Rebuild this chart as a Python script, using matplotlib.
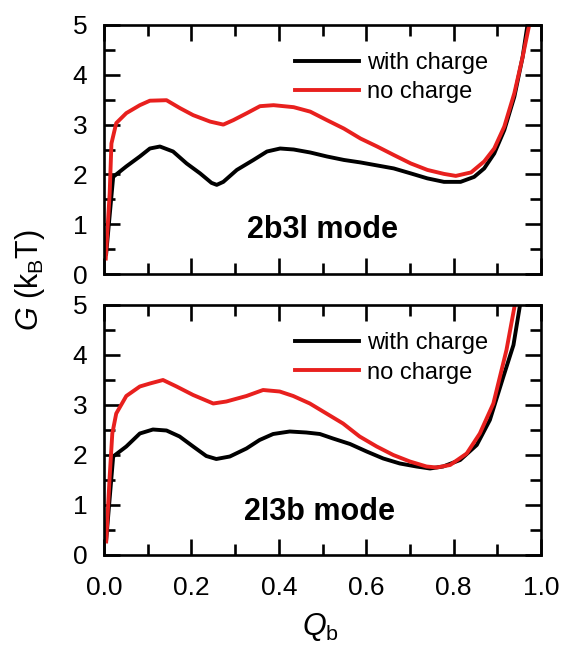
import matplotlib
matplotlib.use("Agg")
import matplotlib.pyplot as plt
from matplotlib.ticker import MultipleLocator

plt.rcParams['font.family'] = ['Liberation Sans', 'DejaVu Sans']
plt.rcParams['mathtext.fontset'] = 'custom'
plt.rcParams['mathtext.rm'] = 'Liberation Sans'
plt.rcParams['mathtext.it'] = 'Liberation Sans:italic'

# ---- data ----
top_with_x = [0.005, 0.021, 0.051, 0.082, 0.105, 0.128, 0.158, 0.189, 0.220, 0.246, 0.258, 0.273, 0.304, 0.342, 0.373, 0.403, 0.434, 0.472, 0.510, 0.549, 0.587, 0.625, 0.663, 0.702, 0.740, 0.778, 0.816, 0.847, 0.870, 0.893, 0.916, 0.939, 0.958, 0.969]
top_with_y = [0.41, 1.95, 2.16, 2.36, 2.52, 2.56, 2.46, 2.22, 2.02, 1.83, 1.79, 1.85, 2.09, 2.29, 2.46, 2.52, 2.50, 2.44, 2.36, 2.29, 2.24, 2.18, 2.12, 2.02, 1.92, 1.85, 1.85, 1.95, 2.12, 2.42, 2.89, 3.56, 4.36, 5.0]

top_no_x = [0.004, 0.013, 0.017, 0.028, 0.051, 0.082, 0.105, 0.143, 0.174, 0.204, 0.243, 0.273, 0.296, 0.327, 0.357, 0.388, 0.434, 0.472, 0.510, 0.549, 0.587, 0.625, 0.663, 0.702, 0.740, 0.778, 0.805, 0.840, 0.870, 0.893, 0.916, 0.939, 0.958, 0.973]
top_no_y = [0.31, 1.62, 2.62, 3.03, 3.23, 3.39, 3.48, 3.49, 3.33, 3.19, 3.06, 3.00, 3.09, 3.23, 3.37, 3.39, 3.35, 3.26, 3.09, 2.92, 2.72, 2.56, 2.39, 2.22, 2.09, 2.01, 1.97, 2.04, 2.26, 2.52, 2.96, 3.63, 4.36, 5.0]

bot_with_x = [0.005, 0.021, 0.051, 0.082, 0.112, 0.143, 0.173, 0.204, 0.234, 0.257, 0.288, 0.326, 0.356, 0.387, 0.425, 0.463, 0.494, 0.524, 0.563, 0.601, 0.639, 0.677, 0.715, 0.746, 0.776, 0.815, 0.853, 0.883, 0.914, 0.937, 0.952]
bot_with_y = [0.30, 1.97, 2.17, 2.43, 2.51, 2.49, 2.37, 2.17, 1.98, 1.92, 1.97, 2.13, 2.30, 2.42, 2.47, 2.45, 2.42, 2.33, 2.22, 2.07, 1.93, 1.83, 1.77, 1.73, 1.77, 1.90, 2.20, 2.70, 3.57, 4.20, 5.0]

bot_no_x = [0.005, 0.013, 0.019, 0.028, 0.051, 0.082, 0.105, 0.135, 0.166, 0.204, 0.250, 0.280, 0.326, 0.364, 0.402, 0.433, 0.471, 0.509, 0.547, 0.585, 0.624, 0.662, 0.700, 0.738, 0.761, 0.792, 0.830, 0.860, 0.891, 0.921, 0.940]
bot_no_y = [0.27, 1.57, 2.43, 2.83, 3.18, 3.37, 3.43, 3.50, 3.37, 3.20, 3.03, 3.07, 3.18, 3.30, 3.27, 3.18, 3.03, 2.83, 2.63, 2.37, 2.17, 2.00, 1.87, 1.77, 1.75, 1.80, 2.03, 2.43, 3.03, 4.10, 5.0]

series_labels = ["with charge", "no charge"]
mode_labels = ["2b3l mode", "2l3b mode"]
xticks = [0.0, 0.2, 0.4, 0.6, 0.8, 1.0]
yticks = [0, 1, 2, 3, 4, 5]

fig = plt.figure(figsize=(5.63, 6.48), dpi=100)
ax1 = fig.add_axes([104/563, 1-274/648, 437/563, 249/648])
ax2 = fig.add_axes([104/563, 1-555/648, 437/563, 250/648])

panels = [(ax1, top_with_x, top_with_y, top_no_x, top_no_y, mode_labels[0], 0.50, 0.177),
          (ax2, bot_with_x, bot_with_y, bot_no_x, bot_no_y, mode_labels[1], 0.494, 0.172)]

for ax, wx, wy, nx, ny, mlab, mx, my in panels:
    ax.plot(wx, wy, color='black', lw=2.8, label=series_labels[0])
    ax.plot(nx, ny, color='#e8201e', lw=2.8, label=series_labels[1])
    ax.set_xlim(0, 1.0)
    ax.set_ylim(0, 5)
    ax.set_xticks(xticks)
    ax.set_yticks(yticks)
    ax.xaxis.set_minor_locator(MultipleLocator(0.1))
    ax.yaxis.set_minor_locator(MultipleLocator(0.5))
    ax.tick_params(which='both', direction='in', top=True, right=True, width=1.9, labelsize=19)
    ax.tick_params(axis='x', which='major', pad=15)
    ax.tick_params(axis='y', which='major', pad=12)
    ax.tick_params(which='major', length=11.5)
    ax.tick_params(which='minor', length=8)
    for s in ax.spines.values():
        s.set_linewidth(1.9)
    leg = ax.legend(loc='upper left', bbox_to_anchor=(0.437, 0.89), frameon=False,
                    fontsize=17, handlelength=2.7, handletextpad=0.35, labelspacing=0.3,
                    borderpad=0, borderaxespad=0)
    ax.text(mx, my, mlab, transform=ax.transAxes, ha='center', va='center',
            fontsize=22, fontweight='bold')

ax1.tick_params(labelbottom=False)

fig.text(30/563, 1-280/648, r"$G$ (k$_\mathregular{B}$T)", rotation=90, ha='center', va='center', fontsize=22)
fig.text(320/563, 1-627/648, r"$Q_\mathregular{b}$", ha='center', va='center', fontsize=22)

fig.savefig("out.png", dpi=100)
